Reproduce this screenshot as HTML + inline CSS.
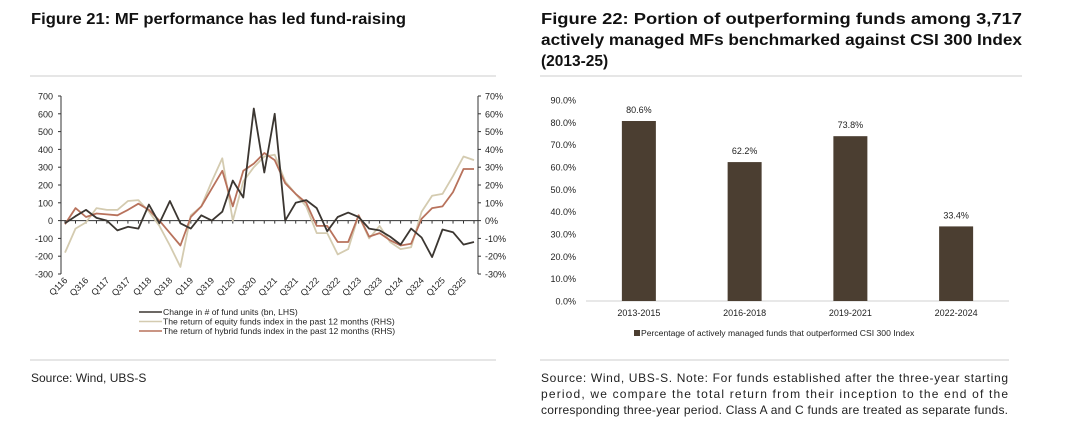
<!DOCTYPE html>
<html><head><meta charset="utf-8"><style>
body{margin:0;background:#fff;}
svg{display:block;font-family:"Liberation Sans",sans-serif;}
</style></head><body>
<svg id="s" width="1080" height="440" viewBox="0 0 1080 440">
<text x="31" y="24" font-size="15.5" font-weight="bold" fill="#111" textLength="375" lengthAdjust="spacingAndGlyphs">Figure 21: MF performance has led fund-raising</text>
<text x="541" y="24" font-size="15.5" font-weight="bold" fill="#111" textLength="481" lengthAdjust="spacingAndGlyphs">Figure 22: Portion of outperforming funds among 3,717</text>
<text x="541" y="45" font-size="15.5" font-weight="bold" fill="#111" textLength="481" lengthAdjust="spacingAndGlyphs">actively managed MFs benchmarked against CSI 300 Index</text>
<text x="541" y="66" font-size="15.5" font-weight="bold" fill="#111">(2013-25)</text>
<line x1="30" y1="76" x2="496" y2="76" stroke="#ccc"/>
<line x1="540" y1="76" x2="1022" y2="76" stroke="#ccc"/>
<line x1="30" y1="360" x2="496" y2="360" stroke="#ccc"/>
<line x1="540" y1="360" x2="1009" y2="360" stroke="#ccc"/>
<text x="31" y="382" font-size="12" fill="#222">Source: Wind, UBS-S</text>
<text x="541" y="382" font-size="12" fill="#222" textLength="467" lengthAdjust="spacing">Source: Wind, UBS-S. Note: For funds established after the three-year starting</text>
<text x="541" y="398" font-size="12" fill="#222" textLength="467" lengthAdjust="spacing">period, we compare the total return from their inception to the end of the</text>
<text x="541" y="414" font-size="12" fill="#222" textLength="467" lengthAdjust="spacing">corresponding three-year period. Class A and C funds are treated as separate funds.</text>
<g id="lc"></g>
<g id="bc"></g>
</svg>
<script>
const quarterLabels = ["Q116","Q216","Q316","Q416","Q117","Q217","Q317","Q417","Q118","Q218","Q318","Q418","Q119","Q219","Q319","Q419","Q120","Q220","Q320","Q420","Q121","Q221","Q321","Q421","Q122","Q222","Q322","Q422","Q123","Q223","Q323","Q423","Q124","Q224","Q324","Q424","Q125","Q225","Q325","Q425"];
const fundUnits = [-15,25,60,15,0,-55,-35,-45,90,-15,110,-15,-45,30,0,50,225,130,630,270,600,0,100,115,70,-60,20,45,20,-45,-55,-90,-135,-45,-95,-205,-50,-65,-135,-120];
const equityRet = [-18,-4.5,-1,7,6,6,11,11.5,5,-3,-14,-26,3,8,22,35,0,22,30,36,37,22,15,8,-7,-7,-19,-16,3,-10,-3,-12,-16,-15,5,14,15,25,36,34];
const hybridRet = [-2,7,2,4,3.5,3,6,9.5,6,0,-7,-14,2,8,18,28,8,28,32,38,34,21,15,10,-3,-3,-12,-12,3,-9,-7,-11,-14,-13,1,7,8,16,29,29];
const leftTicks = [700,600,500,400,300,200,100,0,-100,-200,-300];
const rightTicks = ["70%","60%","50%","40%","30%","20%","10%","0%","-10%","-20%","-30%"];
const barCats = ["2013-2015","2016-2018","2019-2021","2022-2024"];
const barVals = [80.6,62.2,73.8,33.4];
const barTicks = [0,10,20,30,40,50,60,70,80,90];

const NS="http://www.w3.org/2000/svg";
function mk(p,t,a,txt){const e=document.createElementNS(NS,t);for(const k in a)e.setAttribute(k,a[k]);if(txt!==undefined)e.textContent=txt;p.appendChild(e);return e;}

// line chart
const lc=document.getElementById('lc');
const X0=65,X1=474,Y700=96,Ym300=274;
const xq=i=>X0+(X1-X0)*i/(quarterLabels.length-1);
const yl=v=>Y700+(700-v)*(Ym300-Y700)/1000;
const yr=p=>yl(p*10);
let a=mk(lc,'line',{x1:61,y1:Y700,x2:61,y2:Ym300,stroke:'#333','stroke-width':1});


a=mk(lc,'line',{x1:478,y1:Y700,x2:478,y2:Ym300,stroke:'#333','stroke-width':1});


leftTicks.forEach((v,i)=>{
  const y=yl(v);
  mk(lc,'line',{x1:58,y1:y,x2:61,y2:y,stroke:'#333'});
  const t=mk(lc,'text',{x:53,y:y+3.5,'font-size':9,'text-anchor':'end',fill:'#222'},v);
  
  
  mk(lc,'line',{x1:478,y1:y,x2:481,y2:y,stroke:'#333'});
  const r=mk(lc,'text',{x:485,y:y+3.5,'font-size':9,fill:'#222'},rightTicks[i]);
  
  
});
a=mk(lc,'line',{x1:61,y1:yl(0),x2:478,y2:yl(0),stroke:'#333'});


quarterLabels.forEach((q,i)=>{
  const x=xq(i);
  mk(lc,'line',{x1:x,y1:yl(0),x2:x,y2:yl(0)+3,stroke:'#333'});
  if(i%2===0&&i<39){
    const t=mk(lc,'text',{x:x+3,y:281,'font-size':9,'text-anchor':'end',fill:'#222',transform:`rotate(-45 ${x+3} 281)`},q);
    
    
  }
});
function series(vals,fy,col,name){
  const p=mk(lc,'polyline',{points:vals.map((v,i)=>xq(i).toFixed(1)+','+fy(v).toFixed(1)).join(' '),fill:'none',stroke:col,'stroke-width':1.8,'stroke-linejoin':'round'});
  
  
}
series(equityRet,yr,'#d4cbb0','equity-return-line');
series(hybridRet,yr,'#b8725c','hybrid-return-line');
series(fundUnits,yl,'#3b3631','fund-units-line');
const leg=[['Change in # of fund units (bn, LHS)','#3b3631'],['The return of equity funds index in the past 12 months (RHS)','#d4cbb0'],['The return of hybrid funds index in the past 12 months (RHS)','#b8725c']];
leg.forEach((l,i)=>{
  const y=312+i*9.5;
  const g=mk(lc,'g',{});
  
  
  mk(g,'line',{x1:139,y1:y,x2:162,y2:y,stroke:l[1],'stroke-width':1.6});
  mk(g,'text',{x:163,y:y+3,'font-size':8.6,fill:'#222'},l[0]);
});

// bar chart
const bc=document.getElementById('bc');
const BX0=586,BX1=1009,BY0=301,BY90=100;
const yb=v=>BY0-(BY0-BY90)*v/90;
const cw=(BX1-BX0)/barCats.length;
barTicks.forEach(v=>{
  const t=mk(bc,'text',{x:576,y:yb(v)+3.5,'font-size':9,'text-anchor':'end',fill:'#222'},v.toFixed(1)+'%');
  
  
});
a=mk(bc,'line',{x1:BX0,y1:BY0,x2:BX1,y2:BY0,stroke:'#d0d0d0'});


barCats.forEach((c,i)=>{
  const cx=BX0+cw*(i+0.5);
  const r=mk(bc,'rect',{x:cx-17,y:yb(barVals[i]),width:34,height:BY0-yb(barVals[i]),fill:'#4b3e31'});
  
  
  const v=mk(bc,'text',{x:cx,y:yb(barVals[i])-8,'font-size':9,'text-anchor':'middle',fill:'#222'},barVals[i].toFixed(1)+'%');
  
  
  const t=mk(bc,'text',{x:cx,y:316,'font-size':9,'text-anchor':'middle',fill:'#222'},c);
  
  
});
const lg=mk(bc,'g',{});


mk(lg,'rect',{x:634,y:330,width:6,height:6,fill:'#4b3e31'});
mk(lg,'text',{x:641,y:336,'font-size':8.6,fill:'#222'},'Percentage of actively managed funds that outperformed CSI 300 Index');
</script>
</body></html>
